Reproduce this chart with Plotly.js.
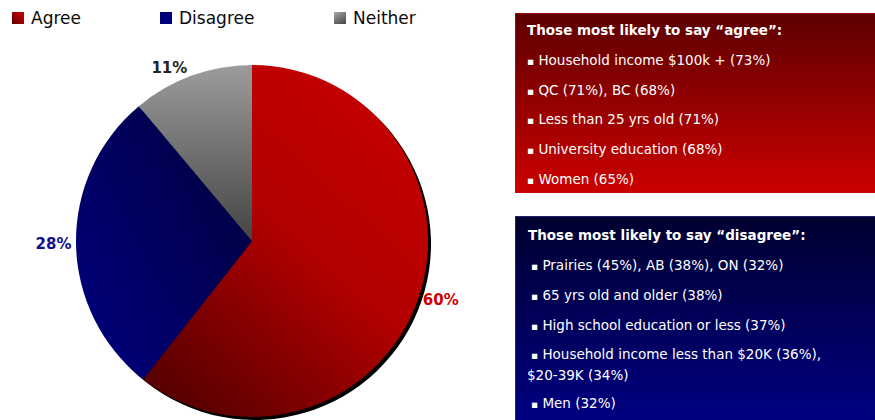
<!DOCTYPE html>
<html>
<head>
<meta charset="utf-8">
<script src="https://cdn.plot.ly/plotly-3.0.1.min.js"></script>
<style>
html,body{margin:0;padding:0;background:#fff;}
#chart{width:875px;height:420px;}
</style>
</head>
<body>
<div id="chart"></div>
<script>
// ---- data ----
var categories = ['Agree', 'Disagree', 'Neither'];
var values = [60, 28, 11];
var agreeTitle = 'Those most likely to say \u201cagree\u201d:';
var agreeItems = [
  'Household income $100k + (73%)',
  'QC (71%), BC (68%)',
  'Less than 25 yrs old (71%)',
  'University education (68%)',
  'Women (65%)'
];
var disagreeTitle = 'Those most likely to say \u201cdisagree\u201d:';
var disagreeItems = [
  ['Prairies (45%), AB (38%), ON (32%)'],
  ['65 yrs old and older (38%)'],
  ['High school education or less (37%)'],
  ['Household income less than $20K (36%),', '$20-39K (34%)'],
  ['Men (32%)']
];

// ---- helpers ----
var W = 875, H = 420;
function px(x){ return x / W; }
function py(y){ return 1 - y / H; }
var FONT = 'DejaVu Sans, Verdana, sans-serif';

function gradSvg(w, h, x1, y1, x2, y2, stops, stroke) {
  var s = '<svg xmlns="http://www.w3.org/2000/svg" width="' + w + '" height="' + h + '" viewBox="0 0 ' + w + ' ' + h + '" preserveAspectRatio="none">' +
    '<defs><linearGradient id="g" x1="' + x1 + '" y1="' + y1 + '" x2="' + x2 + '" y2="' + y2 + '">';
  stops.forEach(function(st){ s += '<stop offset="' + st[0] + '" stop-color="' + st[1] + '"/>'; });
  s += '</linearGradient></defs><rect x="0" y="0" width="' + w + '" height="' + h + '" fill="url(#g)"';
  if (stroke) s += ' stroke="' + stroke + '" stroke-width="1.2"';
  s += '/></svg>';
  return 'data:image/svg+xml;charset=utf-8,' + encodeURIComponent(s);
}

// pie geometry (pixels)
var cx = 252, cy = 241, r = 176;
var dom = {x: [px(cx - r), px(cx + r)], y: [py(cy + r), py(cy - r)]};
var sh = 3;
var domShadow = {x: [px(cx - r + sh), px(cx + r + sh)], y: [py(cy + r + sh), py(cy - r + sh)]};

var labelColors = ['#d00000', '#10108a', '#222222'];

var shadow = {
  type: 'pie', labels: categories, values: values, sort: false, direction: 'clockwise', rotation: 0,
  domain: domShadow, marker: {colors: ['#000', '#000', '#000'], line: {width: 0}},
  textinfo: 'none', hoverinfo: 'skip', showlegend: false
};
var pie = {
  type: 'pie', labels: categories, values: values, sort: false, direction: 'clockwise', rotation: 0,
  domain: dom, marker: {colors: ['#b00000', '#000066', '#777777'], line: {width: 0}},
  texttemplate: '<b>%{value}%</b>', textposition: 'outside',
  outsidetextfont: {family: FONT, size: 15, color: labelColors},
  hoverinfo: 'none', showlegend: false
};

var annotations = [];
var images = [];

// legend (custom, matching reference spacing)
var legendX = [12, 160, 334];
var legendMarkers = [
  gradSvg(12, 12, 0, 1, 1, 0, [[0, '#600000'], [1, '#d00000']]),
  gradSvg(12, 12, 0, 0, 1, 1, [[0, '#000070'], [1, '#000088']]),
  gradSvg(12, 12, 0, 0, 0.6, 1, [[0, '#a8a8a8'], [1, '#505050']])
];
categories.forEach(function(c, i){
  images.push({source: legendMarkers[i], xref: 'paper', yref: 'paper',
    x: px(legendX[i]), y: py(12), sizex: px(12), sizey: 12 / H, sizing: 'stretch',
    xanchor: 'left', yanchor: 'top', layer: 'above'});
  annotations.push({text: c, xref: 'paper', yref: 'paper', x: px(legendX[i] + 17), y: py(18.5),
    xanchor: 'left', yanchor: 'middle', showarrow: false,
    font: {family: FONT, size: 17, color: '#0a0a0a'}});
});

// box backgrounds
images.push({source: gradSvg(360, 180, 0, 0, 0, 1, [[0, '#5c0000'], [1, '#cc0000']], '#c81010'),
  xref: 'paper', yref: 'paper', x: px(515), y: py(13), sizex: px(362), sizey: 180 / H,
  sizing: 'stretch', xanchor: 'left', yanchor: 'top', layer: 'below'});
images.push({source: gradSvg(360, 206, 0, 0, 0, 1, [[0, '#000030'], [1, '#000082']], '#3a3a9a'),
  xref: 'paper', yref: 'paper', x: px(515), y: py(216), sizex: px(362), sizey: 206 / H,
  sizing: 'stretch', xanchor: 'left', yanchor: 'top', layer: 'below'});

var BULLET = '<span style="font-size:10.5px">\u25aa</span> ';
function addLine(text, x, y, bold) {
  annotations.push({text: bold ? '<b>' + text + '</b>' : text, xref: 'paper', yref: 'paper',
    x: px(x), y: py(y), xanchor: 'left', yanchor: 'middle', showarrow: false,
    font: {family: FONT, size: 13.5, color: '#ffffff'}});
}
// agree box
addLine(agreeTitle, 525, 30, true);
agreeItems.forEach(function(t, i){ addLine(BULLET + t, 525, 60 + i * 29.7, false); });
// disagree box
addLine(disagreeTitle, 526, 235, true);
var ys = [265, 295, 325, 354, 403];
disagreeItems.forEach(function(lines, i){
  addLine(BULLET + lines[0], 529, ys[i], false);
  if (lines.length > 1) addLine(lines[1], 525, ys[i] + 21, false);
});

var layout = {
  width: W, height: H, margin: {l: 0, r: 0, t: 0, b: 0},
  paper_bgcolor: '#ffffff', plot_bgcolor: '#ffffff',
  showlegend: false, annotations: annotations, images: images,
  font: {family: FONT}
};

Plotly.newPlot('chart', [shadow, pie], layout, {staticPlot: true, displayModeBar: false}).then(function(gd){
  var svg = gd.querySelector('.main-svg');
  var ns = 'http://www.w3.org/2000/svg';
  var defs = svg.querySelector('defs');
  if (!defs) { defs = document.createElementNS(ns, 'defs'); svg.insertBefore(defs, svg.firstChild); }
  function mk(id, x1, y1, x2, y2, stops){
    var g = document.createElementNS(ns, 'linearGradient');
    g.setAttribute('id', id);
    g.setAttribute('x1', x1); g.setAttribute('y1', y1); g.setAttribute('x2', x2); g.setAttribute('y2', y2);
    stops.forEach(function(st){
      var s = document.createElementNS(ns, 'stop');
      s.setAttribute('offset', st[0]); s.setAttribute('stop-color', st[1]);
      g.appendChild(s);
    });
    defs.appendChild(g);
  }
  mk('gAgree', 0.85, 0.1, 0.2, 1, [[0, '#c40000'], [0.45, '#b20000'], [1, '#5a0000']]);
  mk('gDisagree', 1, 0.2, 0.1, 0.95, [[0, '#000040'], [1, '#00007c']]);
  mk('gNeither', 0, 0, 0, 1, [[0, '#9c9c9c'], [1, '#444444']]);
  var traces = gd.querySelectorAll('.pielayer .trace');
  var main = traces[traces.length - 1];
  var paths = main.querySelectorAll('.slice path.surface');
  var ids = ['gAgree', 'gDisagree', 'gNeither'];
  for (var i = 0; i < paths.length && i < ids.length; i++) {
    paths[i].style.fill = 'url(#' + ids[i] + ')';
  }
});
</script>
</body>
</html>
